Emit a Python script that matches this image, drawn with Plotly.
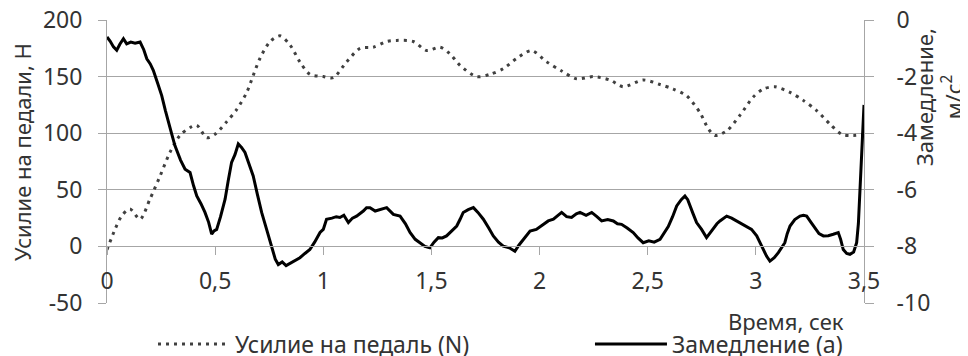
import plotly.graph_objects as go

# ---- data ----
t_force = [0.000, 0.037, 0.068, 0.106, 0.153, 0.199, 0.245, 0.291, 0.337, 0.384,
           0.415, 0.461, 0.499, 0.553, 0.600, 0.646, 0.676, 0.707, 0.754, 0.800,
           0.846, 0.892, 0.938, 1.000, 1.046, 1.108, 1.170, 1.231, 1.293, 1.339,
           1.416, 1.478, 1.540, 1.586, 1.632, 1.709, 1.771, 1.832, 1.894, 1.963,
           2.033, 2.102, 2.172, 2.248, 2.325, 2.387, 2.479, 2.557, 2.618, 2.680,
           2.742, 2.780, 2.811, 2.865, 2.927, 2.988, 3.034, 3.088, 3.158, 3.219,
           3.281, 3.343, 3.397, 3.450, 3.500]
force = [-3, 15, 27, 33, 24, 42, 62, 83, 98, 105,
         107, 96, 99, 110, 121, 136, 151, 166, 181, 186,
         178, 163, 152, 150, 149, 163, 175, 176, 181, 182,
         181, 173, 176, 170, 160, 150, 152, 157, 166, 173,
         163, 155, 148, 150, 147, 141, 147, 143, 139, 133,
         118, 104, 98, 102, 116, 132, 139, 141, 136, 129,
         120, 108, 99, 98, 99]

t_acc = [0.000, 0.015, 0.030, 0.045, 0.060, 0.076, 0.091, 0.110, 0.130, 0.153,
         0.170, 0.184, 0.200, 0.214, 0.235, 0.253, 0.270, 0.283, 0.300, 0.314,
         0.340, 0.361, 0.384, 0.400, 0.415, 0.435, 0.453, 0.470, 0.484, 0.495,
         0.507, 0.525, 0.546, 0.560, 0.576, 0.592, 0.607, 0.622, 0.638, 0.655,
         0.676, 0.695, 0.715, 0.740, 0.761, 0.778, 0.792, 0.810, 0.828, 0.846,
         0.870, 0.892, 0.915, 0.938, 0.960, 0.985, 1.000, 1.015, 1.040, 1.060,
         1.077, 1.095, 1.116, 1.135, 1.154, 1.185, 1.200, 1.216, 1.240, 1.262,
         1.293, 1.324, 1.355, 1.380, 1.401, 1.425, 1.447, 1.470, 1.493, 1.512,
         1.532, 1.550, 1.570, 1.595, 1.617, 1.632, 1.647, 1.670, 1.694, 1.715,
         1.740, 1.765, 1.786, 1.810, 1.832, 1.860, 1.886, 1.905, 1.925, 1.956,
         1.985, 2.017, 2.040, 2.064, 2.085, 2.102, 2.125, 2.148, 2.170, 2.187,
         2.215, 2.241, 2.265, 2.287, 2.315, 2.341, 2.360, 2.379, 2.405, 2.433,
         2.455, 2.479, 2.505, 2.530, 2.557, 2.575, 2.595, 2.615, 2.634, 2.655,
         2.672, 2.685, 2.695, 2.710, 2.726, 2.749, 2.772, 2.790, 2.803, 2.820,
         2.834, 2.850, 2.865, 2.888, 2.911, 2.935, 2.957, 2.980, 3.004, 3.020,
         3.034, 3.050, 3.065, 3.085, 3.104, 3.120, 3.134, 3.145, 3.158, 3.180,
         3.204, 3.220, 3.235, 3.255, 3.273, 3.292, 3.312, 3.335, 3.358, 3.381,
         3.392, 3.404, 3.420, 3.435, 3.452, 3.466, 3.474, 3.481, 3.490, 3.497,
         3.500]
acc = [-0.60, -0.75, -0.95, -1.07, -0.85, -0.66, -0.84, -0.78, -0.82, -0.78,
       -1.05, -1.37, -1.55, -1.78, -2.25, -2.67, -3.20, -3.61, -4.05, -4.44,
       -4.95, -5.27, -5.39, -5.85, -6.22, -6.50, -6.80, -7.15, -7.57, -7.45,
       -7.40, -6.95, -6.33, -5.70, -5.03, -4.75, -4.38, -4.50, -4.68, -5.05,
       -5.51, -6.15, -6.80, -7.45, -7.99, -8.45, -8.64, -8.55, -8.68, -8.60,
       -8.50, -8.40, -8.25, -8.11, -7.85, -7.51, -7.40, -7.04, -7.00, -6.95,
       -6.98, -6.90, -7.16, -7.00, -6.93, -6.75, -6.63, -6.63, -6.75, -6.69,
       -6.63, -6.87, -6.93, -7.20, -7.51, -7.75, -7.87, -8.00, -8.05, -7.85,
       -7.69, -7.70, -7.63, -7.45, -7.28, -7.05, -6.80, -6.70, -6.63, -6.80,
       -7.04, -7.35, -7.63, -7.85, -7.99, -8.05, -8.17, -7.95, -7.75, -7.46,
       -7.40, -7.22, -7.10, -7.04, -6.90, -6.80, -6.95, -6.98, -6.85, -6.80,
       -6.90, -6.80, -6.95, -7.10, -7.05, -7.10, -7.20, -7.22, -7.35, -7.51,
       -7.70, -7.87, -7.80, -7.85, -7.75, -7.55, -7.30, -6.95, -6.57, -6.35,
       -6.22, -6.35, -6.57, -6.85, -7.16, -7.40, -7.69, -7.50, -7.40, -7.20,
       -7.10, -7.00, -6.93, -7.00, -7.10, -7.20, -7.28, -7.40, -7.63, -7.90,
       -8.11, -8.35, -8.52, -8.40, -8.22, -8.05, -7.87, -7.55, -7.28, -7.05,
       -6.93, -6.90, -6.93, -7.15, -7.34, -7.55, -7.63, -7.62, -7.57, -7.51,
       -7.75, -8.11, -8.25, -8.28, -8.20, -7.87, -7.20, -6.10, -4.90, -3.97,
       -3.00]

x_ticks = [0, 0.5, 1, 1.5, 2, 2.5, 3, 3.5]
x_ticktext = ["0", "0,5", "1", "1,5", "2", "2,5", "3", "3,5"]
y1_ticks = [-50, 0, 50, 100, 150, 200]
y1_ticktext = ["-50", "0", "50", "100", "150", "200"]
y2_ticks = [-10, -8, -6, -4, -2, 0]
y2_ticktext = ["-10", "-8", "-6", "-4", "-2", "0"]

FONT = "Noto Sans, Open Sans, sans-serif"
TXT = "#333333"
GRID = "#a6a6a6"
FS = 23
FT = 22

fig = go.Figure()
fig.add_trace(go.Scatter(
    x=t_force, y=force, mode="lines", name="Усилие на педаль (N)",
    line=dict(color="#404040", width=3, dash="3px,5px", shape="spline", smoothing=0.8),
    yaxis="y", legend="legend"))
fig.add_trace(go.Scatter(
    x=t_acc, y=acc, mode="lines", name="Замедление (a)",
    line=dict(color="#000000", width=3),
    yaxis="y2", legend="legend2"))

leg_common = dict(orientation="h", y=-0.145, xanchor="left", yanchor="middle",
                  itemwidth=72, font=dict(size=FS, color=TXT), bgcolor="rgba(0,0,0,0)")

fig.update_layout(
    width=960, height=348,
    margin=dict(l=99, r=104, t=12, b=53, autoexpand=False),
    paper_bgcolor="white", plot_bgcolor="white",
    font=dict(family=FONT, size=FS, color=TXT),
    showlegend=True,
    legend=dict(x=0.0608, **leg_common),
    legend2=dict(x=0.638, **leg_common),
    xaxis=dict(range=[0, 3.5], tickvals=x_ticks, ticktext=x_ticktext, automargin=False,
               anchor="free", position=0.2, showline=True, linecolor=GRID, linewidth=1,
               ticks="outside", ticklen=8, tickcolor=GRID, showgrid=False, zeroline=False,
               ticklabelstandoff=6, ticklabeloverflow="allow",
               tickfont=dict(size=FS, color=TXT)),
    yaxis=dict(range=[-50, 200], tickvals=y1_ticks, ticktext=y1_ticktext, automargin=False,
               showline=True, linecolor=GRID, linewidth=1, ticks="outside", ticklen=8,
               tickcolor=GRID, showgrid=True, gridcolor=GRID, gridwidth=1, zeroline=False,
               ticklabeloverflow="allow",
               tickfont=dict(size=FS, color=TXT), ticklabelstandoff=11),
    yaxis2=dict(range=[-10, 0], tickvals=y2_ticks, ticktext=y2_ticktext, automargin=False,
                overlaying="y", side="right", anchor="x",
                showline=True, linecolor=GRID, linewidth=1, ticks="outside", ticklen=9,
                tickcolor=GRID, showgrid=False, zeroline=False,
                ticklabeloverflow="allow",
                tickfont=dict(size=FS, color=TXT), ticklabelstandoff=18),
    annotations=[
        dict(text="Время, сек", xref="paper", yref="paper", x=0.976, y=-0.062,
             xanchor="right", yanchor="middle", showarrow=False,
             font=dict(size=FT, color=TXT)),
        dict(text="Усилие на педали, Н", xref="paper", yref="paper", x=-0.113, y=0.535,
             xanchor="center", yanchor="middle", textangle=-90, showarrow=False,
             font=dict(size=FT, color=TXT)),
        dict(text="Замедление,<br>м/с<sup>2</sup>", xref="paper", yref="paper",
             x=1.099, y=0.728, xanchor="center", yanchor="middle", textangle=-90,
             showarrow=False, font=dict(size=FT, color=TXT)),
    ],
)

fig.write_html("out.html")
